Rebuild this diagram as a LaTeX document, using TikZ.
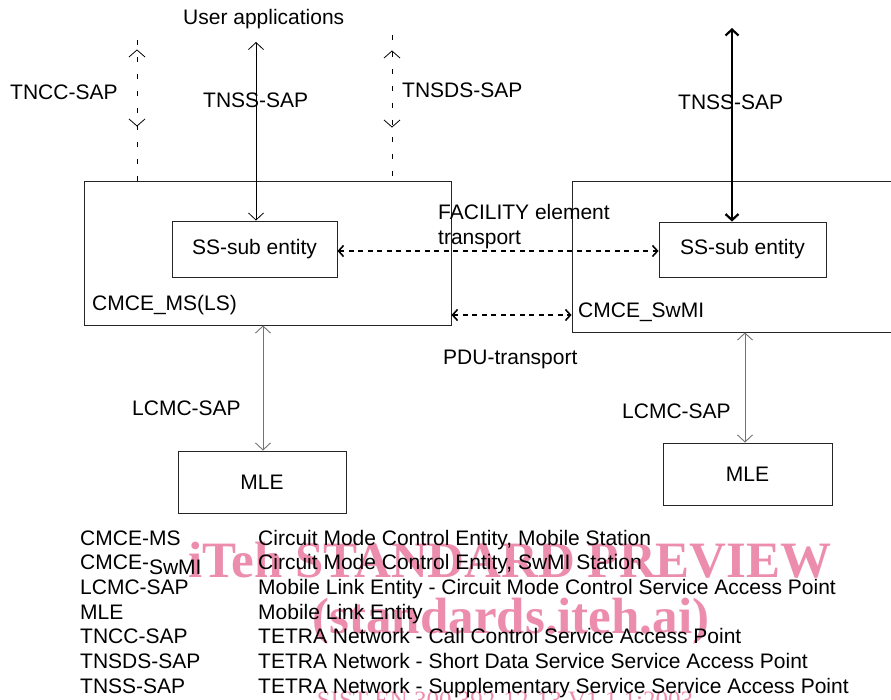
\documentclass[tikz,border=0pt]{standalone}
\usepackage{fontspec}
\setmainfont{Liberation Sans}
\newfontfamily\wmfont{Liberation Serif}
\usetikzlibrary{arrows.meta}
\definecolor{wmpink}{RGB}{234,122,160}
\begin{document}
\begin{tikzpicture}[x=1pt,y=-1pt,
  every node/.style={font=\fontsize{21}{25}\selectfont, inner sep=0pt},
  box/.style={draw=black!85, line width=0.9pt},
  lbl/.style={anchor=base west},
  wm/.style={anchor=base, text=wmpink, opacity=0.85},
  vtip/.style={line width=0.8pt, line join=miter},
  dashline/.style={line width=0.8pt, dash pattern=on 5pt off 12pt},
  thinarr/.style={line width=0.8pt, {Straight Barb[length=7pt,width=15pt]}-{Straight Barb[length=7pt,width=15pt]}},
  grayarr/.style={line width=0.9pt, draw=black!55, {Straight Barb[length=7pt,width=15pt]}-{Straight Barb[length=7pt,width=15pt]}},
  thickarr/.style={line width=2.2pt, {Straight Barb[length=6pt,width=13pt]}-{Straight Barb[length=6pt,width=13pt]}},
  dotarr/.style={line width=1.6pt, dash pattern=on 5pt off 4.5pt, {Straight Barb[length=5pt,width=11pt]}-{Straight Barb[length=5pt,width=11pt]}}]
\useasboundingbox (0,0) rectangle (891,700);
\clip (0,0) rectangle (891,700);
\fill[white] (0,0) rectangle (891,700);

% boxes
\node[box, minimum width=367pt, minimum height=144pt] (ms) at (267.5,253) {};
\node[box, minimum width=165pt, minimum height=56pt] (ss1) at (254.5,249) {SS-sub entity};
\node[box, minimum width=340pt, minimum height=151pt] (swmi) at (742,256.5) {};
\node[box, minimum width=167pt, minimum height=55pt] (ss2) at (742.5,249.5) {SS-sub entity};
\node[box, minimum width=168pt, minimum height=62pt] (mle1) at (262,482) {MLE};
\node[box, minimum width=169pt, minimum height=62pt] (mle2) at (747.5,474) {MLE};

% labels
\node[lbl] (ua) at (183,25) {User applications};
\node[lbl] (tncc) at (10,100) {TNCC-SAP};
\node[lbl] (tnss1) at (203,108) {TNSS-SAP};
\node[lbl] (tnsds) at (402,98) {TNSDS-SAP};
\node[lbl] (tnss2) at (678,110) {TNSS-SAP};
\node[lbl] (fac1) at (438,220) {FACILITY element};
\node[lbl] (fac2) at (438,245) {transport};
\node[lbl] (msl) at (92,311) {CMCE\_MS(LS)};
\node[lbl] (swl) at (578,318) {CMCE\_SwMI};
\node[lbl] (pdu) at (443,364) {PDU-transport};
\node[lbl] (lc1) at (132,415) {LCMC-SAP};
\node[lbl] (lc2) at (622,418) {LCMC-SAP};

% vertical connectors
\coordinate (uat) at (256,42);
\draw[thinarr] (uat) -- (ss1.north -| uat);
\coordinate (trt) at (732,28);
\draw[thickarr] (trt) -- (ss2.north -| trt);

\coordinate (tct) at (137,40);
\draw[dashline] (tct) -- (ms.north -| tct);
\draw[vtip] (129,57) -- (137,50) -- (145,57);
\draw[vtip] (129,119) -- (137,126) -- (145,119);

\coordinate (tdt) at (392,35);
\draw[dashline] (tdt) -- (ms.north -| tdt);
\draw[vtip] (384,58) -- (392,51) -- (400,58);
\draw[vtip] (384,120) -- (392,127) -- (400,120);

\coordinate (l1) at (263,0);
\draw[grayarr] (ms.south -| l1) -- (mle1.north -| l1);
\coordinate (l2) at (745,0);
\draw[grayarr] (swmi.south -| l2) -- (mle2.north -| l2);

% horizontal connectors
\coordinate (fy) at (0,251);
\draw[dotarr] (ss1.east |- fy) -- (ss2.west |- fy);
\coordinate (py) at (0,315);
\draw[dotarr] (ms.east |- py) -- (swmi.west |- py);

% watermark
\node[wm, font=\wmfont\bfseries\fontsize{51}{60}\selectfont] (wm1) at (510,577) {iTeh STANDARD PREVIEW};
\node[wm, font=\wmfont\bfseries\fontsize{51}{60}\selectfont] (wm2) at (511,633) {(standards.iteh.ai)};
\node[wm, font=\wmfont\fontsize{25}{30}\selectfont] (wm3) at (505,708) {SIST EN 300 392-12-13 V1.1.1:2003};

% legend
\node[lbl] (k1) at (80,545.5) {CMCE-MS};
\node[lbl] (d1) at (258,545.5) {Circuit Mode Control Entity, Mobile Station};
\node[lbl] (k2) at (80,569.5) {CMCE-\raisebox{-5pt}{SwMI}};
\node[lbl] (d2) at (258,569.5) {Circuit Mode Control Entity, SwMI Station};
\node[lbl] (k3) at (80,594.5) {LCMC-SAP};
\node[lbl] (d3) at (258,594.5) {Mobile Link Entity - Circuit Mode Control Service Access Point};
\node[lbl] (k4) at (80,619.5) {MLE};
\node[lbl] (d4) at (258,619.5) {Mobile Link Entity};
\node[lbl] (k5) at (80,643.5) {TNCC-SAP};
\node[lbl] (d5) at (258,643.5) {TETRA Network - Call Control Service Access Point};
\node[lbl] (k6) at (80,668.5) {TNSDS-SAP};
\node[lbl] (d6) at (258,668.5) {TETRA Network - Short Data Service Service Access Point};
\node[lbl] (k7) at (80,693.5) {TNSS-SAP};
\node[lbl] (d7) at (258,693.5) {TETRA Network - Supplementary Service Service Access Point};
\end{tikzpicture}
\end{document}
